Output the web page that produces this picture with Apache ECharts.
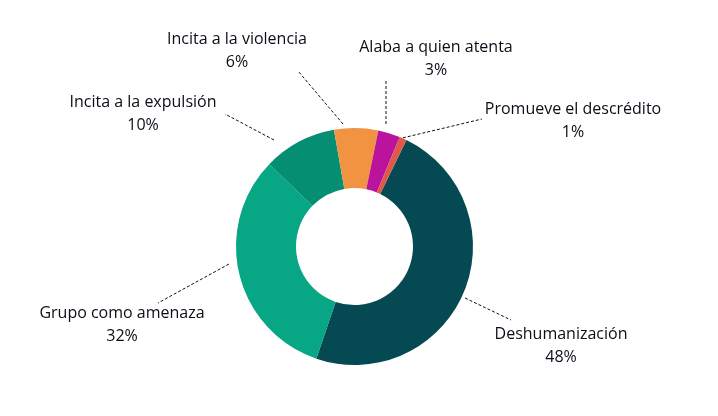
<!DOCTYPE html>
<html>
<head>
<meta charset="utf-8">
<script src="https://cdn.jsdelivr.net/npm/echarts@6/dist/echarts.min.js"></script>
<style>
  html, body { margin: 0; padding: 0; background: #fff; }
  #chart { width: 718px; height: 416px; }
</style>
</head>
<body>
<div id="chart"></div>
<script>
const categories = [
    'Deshumanización',
    'Grupo como amenaza',
    'Incita a la expulsión',
    'Incita a la violencia',
    'Alaba a quien atenta',
    'Promueve el descrédito'
]
const shares = [48, 32, 10, 6, 3, 1]
const colors = ['#054a53', '#07a786', '#058e72', '#f29341', '#bb139b', '#e0584a']

// label placement (pixels): label centre and leader line ends
const labelSpots = [
    { x: 561, y: 346, line: [[465, 298], [511, 320]] },
    { x: 122, y: 325, line: [[229, 264], [158, 303]] },
    { x: 143, y: 114, line: [[274, 140], [225, 114]] },
    { x: 237, y: 51, line: [[343, 124], [298, 71]] },
    { x: 436, y: 59, line: [[386, 124], [386, 80]] },
    { x: 573, y: 121, line: [[398, 139], [482, 119]] }
]

const chart = echarts.init(document.getElementById('chart'))

const option = {
    backgroundColor: '#fff',
    animation: false,
    series: [
        {
            type: 'pie',
            center: [354.5, 246.5],
            radius: [58.5, 118.5],
            startAngle: 64,
            clockwise: true,
            avoidLabelOverlap: false,
            data: categories.map((name, i) => ({
                name: name,
                value: shares[i],
                itemStyle: { color: colors[i] }
            })),
            label: {
                show: true,
                position: 'outside',
                formatter: '{b}\n{c}%',
                fontFamily: 'Open Sans',
                fontSize: 16,
                lineHeight: 23,
                color: '#0d0d17',
                align: 'center'
            },
            labelLine: {
                show: true,
                lineStyle: { color: '#111', width: 1, type: [3, 2] }
            },
            labelLayout: function (params) {
                const s = labelSpots[params.dataIndex]
                return {
                    x: s.x,
                    y: s.y,
                    align: 'center',
                    verticalAlign: 'middle',
                    labelLinePoints: s.line
                }
            },
            emphasis: { disabled: true }
        }
    ]
}

chart.setOption(option)
</script>
</body>
</html>
